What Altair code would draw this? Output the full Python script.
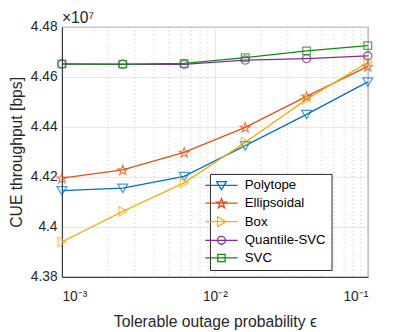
import math
import altair as alt
import pandas as pd

# ---- data ----
eps = [0.001, 0.0025, 0.0063, 0.0158, 0.0398, 0.1]
series = ["Polytope", "Ellipsoidal", "Box", "Quantile-SVC", "SVC"]
polytope = [4.4145, 4.4155, 4.4202, 4.4325, 4.4450, 4.4580]
ellipsoidal = [4.4195, 4.4228, 4.4298, 4.4398, 4.4522, 4.4642]
box = [4.3940, 4.4062, 4.4176, 4.4338, 4.4510, 4.4658]
quantile_svc = [4.4651, 4.4650, 4.4650, 4.4667, 4.4673, 4.4684]
svc = [4.4652, 4.4651, 4.4654, 4.4677, 4.4704, 4.4725]
colors = ["#0072BD", "#D95319", "#EDB120", "#7E2F8E", "#118A11"]
x_ticks = [0.001, 0.01, 0.1]
x_minor = [0.002, 0.003, 0.004, 0.005, 0.006, 0.007, 0.008, 0.009,
           0.02, 0.03, 0.04, 0.05, 0.06, 0.07, 0.08, 0.09]
y_ticks = [4.38, 4.40, 4.42, 4.44, 4.46, 4.48]

values = [polytope, ellipsoidal, box, quantile_svc, svc]
rows = []
for name, vals in zip(series, values):
    for e, v in zip(eps, vals):
        rows.append({"eps": e, "val": v, "series": name})
df = pd.DataFrame(rows)
minor_df = pd.DataFrame({"m": x_minor})

# ---- marker shapes (unit box -1..1) ----
def star_path(r_out=1.0, r_in=0.4, scale=1.0):
    pts = []
    for k in range(10):
        r = r_out if k % 2 == 0 else r_in
        a = math.radians(-90 + k * 36)
        pts.append((scale * r * math.cos(a), scale * r * math.sin(a) + scale * 0.1))
    return "M" + "L".join(f"{x:.3f},{y:.3f}" for x, y in pts) + "Z"

def tri_down(s=1.0):
    return f"M{-s:.3f},{-0.8*s:.3f}L{s:.3f},{-0.8*s:.3f}L0,{0.9*s:.3f}Z"

def tri_right(s=1.0):
    return f"M{-0.8*s:.3f},{-s:.3f}L{0.9*s:.3f},0L{-0.8*s:.3f},{s:.3f}Z"

def circle(s=1.0):
    return (f"M{-s:.3f},0A{s:.3f},{s:.3f} 0 1,0 {s:.3f},0"
            f"A{s:.3f},{s:.3f} 0 1,0 {-s:.3f},0Z")

def square(s=1.0):
    return f"M{-s:.3f},{-s:.3f}H{s:.3f}V{s:.3f}H{-s:.3f}Z"

plot_shapes = [tri_down(0.95), star_path(1.0, 0.4), tri_right(0.95), circle(0.8), square(0.75)]
# legend symbols: size 100 -> unit = 5px; line spans +-3.3 units (33px), marker ~10px
ls = 1.0
legend_shapes = ["M-3.3,0H3.3" + p for p in [tri_down(ls), star_path(ls * 1.05, ls * 0.42),
                                             tri_right(ls), circle(ls * 0.8), square(ls * 0.75)]]

font = "Liberation Sans"
xscale = alt.Scale(type="log", domain=[0.001, 0.1], nice=False)
yscale = alt.Scale(domain=[4.38, 4.48], nice=False, zero=False)

xaxis = alt.Axis(values=x_ticks, title="Tolerable outage probability  ϵ",
                 labelExpr="datum.value < 0.005 ? '10⁻³' : datum.value < 0.05 ? '10⁻²' : '10⁻¹'",
                 grid=True, gridColor="#e3e3e3", tickSize=0, labelPadding=13,
                 titlePadding=11)
yaxis = alt.Axis(values=y_ticks, format=".2~f", title="CUE throughput [bps]",
                 grid=True, gridColor="#e3e3e3", tickSize=0, labelPadding=5,
                 titlePadding=6)

minor = alt.Chart(minor_df).mark_rule(color="#c4c4c4", strokeDash=[1, 3], strokeWidth=1).encode(
    x=alt.X("m:Q", scale=xscale, axis=xaxis)
)

base = alt.Chart(df)
color_nolegend = alt.Color("series:N", scale=alt.Scale(domain=series, range=colors), legend=None)

lines = base.mark_line(strokeWidth=1.3).encode(
    x=alt.X("eps:Q", scale=xscale, axis=xaxis),
    y=alt.Y("val:Q", scale=yscale, axis=yaxis),
    color=color_nolegend,
    detail="series:N",
)

points = base.mark_point(filled=False, strokeWidth=1.3, size=110).encode(
    x=alt.X("eps:Q", scale=xscale),
    y=alt.Y("val:Q", scale=yscale),
    color=color_nolegend,
    shape=alt.Shape("series:N", scale=alt.Scale(domain=series, range=plot_shapes), legend=None),
)

legend = alt.Legend(title=None, orient="none", legendX=151, legendY=150,
                    symbolSize=100, symbolStrokeWidth=1.3, symbolOpacity=1,
                    labelFont=font, labelFontSize=13.5, labelColor="#000000",
                    labelOffset=17, rowPadding=3, padding=5,
                    strokeColor="#262626", fillColor="white", cornerRadius=0)

carrier = base.mark_point(filled=False, strokeWidth=1.3, size=110, opacity=0).encode(
    x=alt.X("eps:Q", scale=xscale),
    y=alt.Y("val:Q", scale=yscale),
    color=alt.Color("series:N", scale=alt.Scale(domain=series, range=colors), legend=legend),
    shape=alt.Shape("series:N", scale=alt.Scale(domain=series, range=legend_shapes), legend=legend),
)

chart = alt.layer(minor, lines, points, carrier).resolve_scale(
    color="independent", shape="independent"
).properties(
    width=312, height=255,
    title=alt.TitleParams("×10⁷", anchor="start", fontSize=16, fontWeight="normal",
                          font=font, color="#262626", offset=5, frame="group", dy=11),
    autosize=alt.AutoSizeParams(type="none"),
    padding={"left": 55, "top": 16, "right": 40, "bottom": 53},
).configure_axis(
    labelFont=font, titleFont=font, labelFontSize=14, titleFontSize=16,
    labelColor="#262626", titleColor="#262626", titleFontWeight="normal",
    domainColor="#262626",
).configure_view(stroke="#262626", strokeWidth=1)

chart.save("out.html", embed_options={"renderer": "svg", "actions": False})
